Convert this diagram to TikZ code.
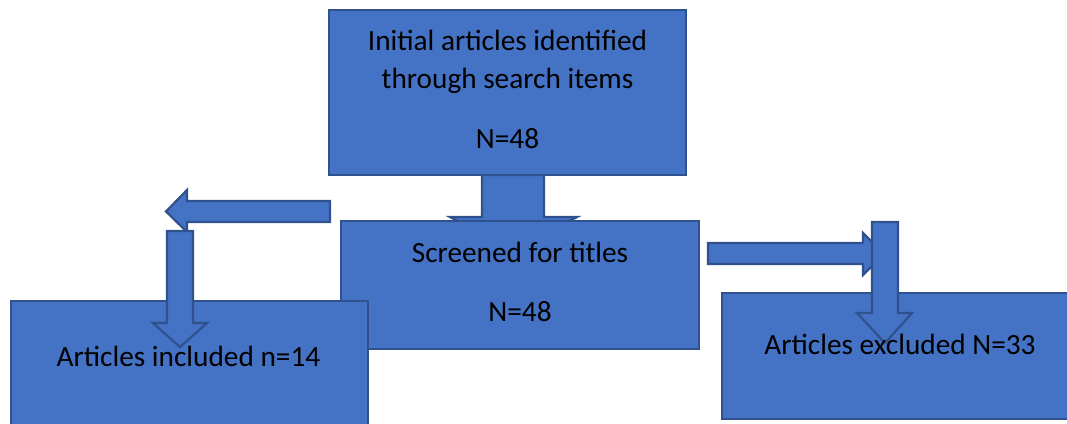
\documentclass[tikz,border=0pt]{standalone}
\usepackage{fontspec}
\setmainfont{Carlito}
\definecolor{boxfill}{HTML}{4472C4}
\definecolor{boxline}{HTML}{2F528F}
\begin{document}
\begin{tikzpicture}[x=1pt,y=-1pt,
  blk/.style={draw=boxline,fill=boxfill,line width=2.2pt,line join=miter},
  lbl/.style={font=\fontsize{29.3}{34}\selectfont,text=black,inner sep=0pt,anchor=base}]
\useasboundingbox (0,0) rectangle (1067,423);
\begin{scope}
\clip (0,0) rectangle (1067,423);
% top box and the arrow leading down to the screening step
\path[blk] (482,175) -- (544,175) -- (544,217) -- (577,217) -- (513,250) -- (450,217) -- (482,217) -- cycle;
\node[blk,minimum width=357pt,minimum height=165pt,inner sep=0pt] (initial) at (507.5,92.5) {};
\node[lbl] (initialA) at (507.5,50) {Initial articles identified};
\node[lbl] (initialB) at (507.5,88) {through search items};
\node[lbl] (initialN) at (507.5,148) {N=48};
% screening box
\node[blk,minimum width=358pt,minimum height=128pt,inner sep=0pt] (screen) at (520,285) {};
\node[lbl] (screenA) at (520,262) {Screened for titles};
\node[lbl] (screenN) at (520,321) {N=48};
% left branch: arrow out to the left, then down
\path[blk] (330,201) -- (187,201) -- (187,190) -- (166,211.5) -- (187,232) -- (187,222) -- (330,222) -- cycle;
\node[blk,minimum width=357pt,minimum height=130pt,inner sep=0pt,anchor=north west] (incl) at (10,300) {};
\path[blk] (167,231) -- (193,231) -- (193,323) -- (207,323) -- (180,347) -- (153,323) -- (167,323) -- cycle;
\node[lbl] (inclT) at (188.5,366) {Articles included n=14};
% right branch: arrow out to the right, then down
\path[blk] (708,243) -- (863,243) -- (863,233) -- (884,254) -- (863,275) -- (863,264) -- (708,264) -- cycle;
\node[blk,minimum width=360pt,minimum height=126pt,inner sep=0pt,anchor=north west] (excl) at (721,292) {};
\path[blk] (872,222) -- (898,222) -- (898,313) -- (912,313) -- (885,343) -- (857,313) -- (872,313) -- cycle;
\node[lbl] (exclT) at (900,354) {Articles excluded N=33};
\end{scope}
\end{tikzpicture}
\end{document}
